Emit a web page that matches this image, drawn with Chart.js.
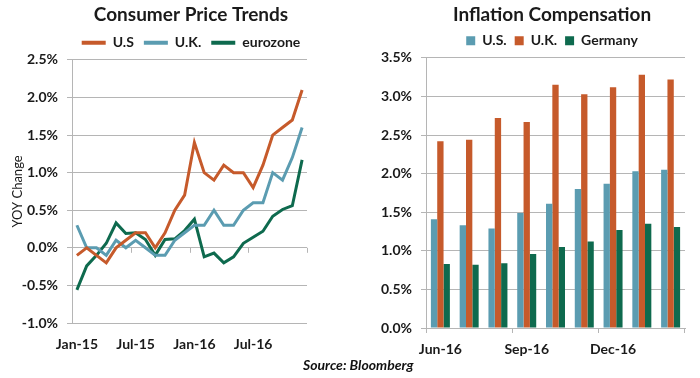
<!DOCTYPE html>
<html><head><meta charset="utf-8">
<script src="https://cdn.jsdelivr.net/npm/chart.js@4/dist/chart.umd.min.js"></script>
<style>
html,body{margin:0;padding:0;width:700px;height:378px;overflow:hidden;background:#fff;}
#wrap{position:relative;width:700px;height:378px;overflow:hidden;background:#fff;}
#c1box{position:absolute;left:0;top:0;width:382px;height:378px;z-index:1;}
#c2box{position:absolute;left:350px;top:0;width:404px;height:378px;z-index:2;}
#src{position:absolute;left:303px;top:356px;font:italic bold 14px Lato,sans-serif;color:#111;z-index:3;white-space:nowrap;}
</style></head><body>
<div id="wrap">
<div id="c1box"><canvas id="c1" width="382" height="378"></canvas></div>
<div id="c2box"><canvas id="c2" width="404" height="378"></canvas></div>
<div id="src">Source: Bloomberg</div>
</div>
<script>
// ---- Left chart data: Consumer Price Trends (YOY %) ----
const cpiMonths = ['Jan-15','Feb-15','Mar-15','Apr-15','May-15','Jun-15','Jul-15','Aug-15','Sep-15','Oct-15','Nov-15','Dec-15',
                   'Jan-16','Feb-16','Mar-16','Apr-16','May-16','Jun-16','Jul-16','Aug-16','Sep-16','Oct-16','Nov-16','Dec-16'];
const usCpi   = [-0.1, 0.0, -0.1, -0.2, 0.0, 0.1, 0.2, 0.2, 0.0, 0.2, 0.5, 0.7, 1.4, 1.0, 0.9, 1.1, 1.0, 1.0, 0.8, 1.1, 1.5, 1.6, 1.7, 2.1];
const ukCpi   = [0.3, 0.0, 0.0, -0.1, 0.1, 0.0, 0.1, 0.0, -0.1, -0.1, 0.1, 0.2, 0.3, 0.3, 0.5, 0.3, 0.3, 0.5, 0.6, 0.6, 1.0, 0.9, 1.2, 1.6];
const euroCpi = [-0.56, -0.24, -0.1, 0.06, 0.33, 0.19, 0.2, 0.11, -0.1, 0.11, 0.12, 0.23, 0.38, -0.12, -0.07, -0.2, -0.12, 0.06, 0.14, 0.22, 0.42, 0.51, 0.56, 1.17];
const cpiTickEvery = 6;

// ---- Right chart data: Inflation Compensation (%) ----
const icMonths  = ['Jun-16','Jul-16','Aug-16','Sep-16','Oct-16','Nov-16','Dec-16','Jan-17','Feb-17'];
const icUS      = [1.41, 1.33, 1.29, 1.49, 1.61, 1.80, 1.87, 2.03, 2.05];
const icUK      = [2.42, 2.44, 2.72, 2.67, 3.15, 3.03, 3.12, 3.28, 3.22];
const icGermany = [0.83, 0.82, 0.84, 0.96, 1.05, 1.12, 1.27, 1.35, 1.31];
const icTickEvery = 3;

const ORANGE = '#C65A2B', BLUE = '#5B9CB1', GREEN = '#0E6A4E';
const GRID = '#b5b5b5', TEXT = '#1a1a1a';
const FONT = 'Lato, "Open Sans", sans-serif';

const pct = v => (Math.abs(v) < 1e-9 ? 0 : v).toFixed(1) + '%';

function legendLabels(chart) {
  return Chart.defaults.plugins.legend.labels.generateLabels(chart).map(l => {
    l.fillStyle = l.strokeStyle; l.lineWidth = 0; return l;
  });
}

// tick marks hanging below the 0% line at every 6th category boundary
const zeroTicks = {
  id: 'zeroTicks',
  beforeDatasetsDraw(chart) {
    const xs = chart.scales.x, ys = chart.scales.y, ctx = chart.ctx;
    const n = chart.data.labels.length;
    const y0 = ys.getPixelForValue(0);
    ctx.save();
    ctx.strokeStyle = GRID; ctx.lineWidth = 1;
    for (let b = 0; b <= n; b += cpiTickEvery) {
      let x;
      if (b === 0) x = xs.left; else if (b === n) x = xs.right;
      else x = (xs.getPixelForValue(b - 1) + xs.getPixelForValue(b)) / 2;
      x = Math.round(x) + 0.5;
      ctx.beginPath(); ctx.moveTo(x, y0); ctx.lineTo(x, y0 + 5); ctx.stroke();
    }
    ctx.restore();
  }
};

new Chart(document.getElementById('c1'), {
  type: 'line',
  data: {
    labels: cpiMonths,
    datasets: [
      { label: 'U.S', data: usCpi, borderColor: ORANGE, backgroundColor: ORANGE },
      { label: 'U.K.', data: ukCpi, borderColor: BLUE, backgroundColor: BLUE },
      { label: 'eurozone', data: euroCpi, borderColor: GREEN, backgroundColor: GREEN }
    ]
  },
  options: {
    responsive: false, animation: false, devicePixelRatio: 1,
    layout: { padding: 0 },
    elements: { line: { borderWidth: 3, tension: 0 }, point: { radius: 0 } },
    plugins: {
      title: { display: true, text: 'Consumer Price Trends', color: TEXT,
               font: { family: FONT, size: 19, weight: 'bold', lineHeight: 1.15 }, padding: { top: 4, bottom: 0 } },
      legend: { position: 'top',
        labels: { color: TEXT, font: { family: FONT, size: 14, weight: 'bold' }, boxWidth: 24, boxHeight: 4, padding: 10,
                  generateLabels: legendLabels } },
      tooltip: { enabled: false }
    },
    scales: {
      x: { offset: true,
        grid: { display: false, drawTicks: false },
        border: { display: false },
        ticks: { autoSkip: false, maxRotation: 0, padding: 13, color: TEXT,
                 font: { family: FONT, size: 14, weight: 'bold' },
                 callback: (v, i) => i % cpiTickEvery === 0 ? cpiMonths[i] : '' },
        afterFit: s => { s.height = 55; } },
      y: { min: -1, max: 2.5,
        ticks: { stepSize: 0.5, padding: 9, color: TEXT, font: { family: FONT, size: 14, weight: 'bold' }, callback: v => pct(v) },
        grid: { color: GRID, tickLength: 5 },
        border: { display: true, color: GRID },
        title: { display: true, text: 'YOY Change', color: TEXT, font: { family: FONT, size: 13 }, padding: { top: 10, bottom: 0 } },
        afterFit: s => { s.width = 72; } },
      pad: { type: 'linear', position: 'right', display: true,
        grid: { display: false }, border: { display: false }, ticks: { display: false },
        afterFit: s => { s.width = 75; } }
    }
  },
  plugins: [zeroTicks]
});

new Chart(document.getElementById('c2'), {
  type: 'bar',
  data: {
    labels: icMonths,
    datasets: [
      { label: 'U.S.', data: icUS, backgroundColor: BLUE },
      { label: 'U.K.', data: icUK, backgroundColor: ORANGE },
      { label: 'Germany', data: icGermany, backgroundColor: GREEN }
    ]
  },
  options: {
    responsive: false, animation: false, devicePixelRatio: 1,
    layout: { padding: 0 },
    datasets: { bar: { categoryPercentage: 0.66, barPercentage: 1.0, borderWidth: 0 } },
    plugins: {
      title: { display: true, text: 'Inflation Compensation', color: TEXT,
               font: { family: FONT, size: 19, weight: 'bold', lineHeight: 1.15 }, padding: { top: 4, bottom: 0 } },
      legend: { position: 'top',
        labels: { color: TEXT, font: { family: FONT, size: 14, weight: 'bold' }, boxWidth: 9, boxHeight: 9, padding: 8 } },
      tooltip: { enabled: false }
    },
    scales: {
      x: {
        grid: { drawOnChartArea: false, drawTicks: true, tickLength: 5, offset: true,
                color: c => (c.type !== 'tick' || c.index % icTickEvery === 0) ? GRID : 'rgba(0,0,0,0)' },
        border: { display: true, color: GRID },
        ticks: { autoSkip: false, maxRotation: 0, padding: 8, color: TEXT,
                 font: { family: FONT, size: 14, weight: 'bold' },
                 callback: (v, i) => i % icTickEvery === 0 ? icMonths[i] : '' },
        afterFit: s => { s.height = 50; } },
      y: { min: 0, max: 3.5,
        ticks: { stepSize: 0.5, padding: 9, color: TEXT, font: { family: FONT, size: 14, weight: 'bold' }, callback: v => pct(v) },
        grid: { color: GRID, tickLength: 5 },
        border: { display: true, color: GRID },
        afterFit: s => { s.width = 76; } },
      pad: { type: 'linear', position: 'right', display: true,
        grid: { display: false }, border: { display: false }, ticks: { display: false },
        afterFit: s => { s.width = 69; } }
    }
  }
});
</script>
</body></html>
